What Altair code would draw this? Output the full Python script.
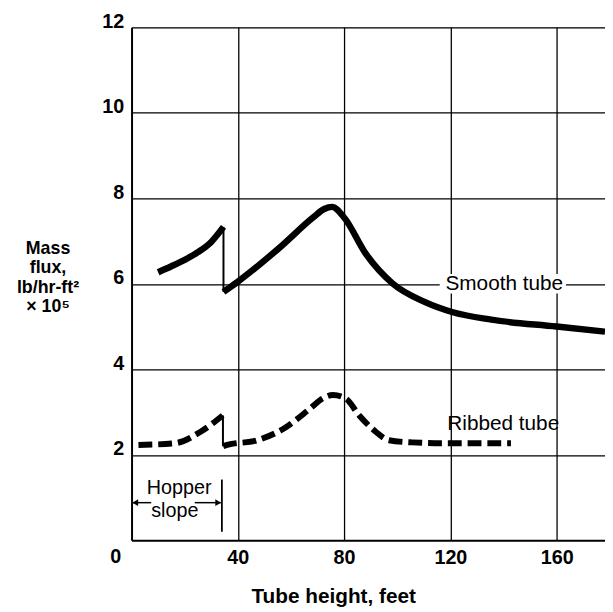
import altair as alt
import pandas as pd

FONT = "Liberation Sans"

# Smooth tube (solid), two segments separated by a drop at the hopper end
smooth_a_x = [10, 15, 20, 25, 30, 34.6]
smooth_a_y = [6.27, 6.41, 6.56, 6.74, 6.98, 7.33]
smooth_b_x = [34.6, 39.8, 55.8, 68.3, 72.5, 75.5, 80, 88.2, 98.2, 110.5, 120.6, 135.4, 160, 178.2]
smooth_b_y = [5.81, 6.04, 6.85, 7.55, 7.75, 7.8, 7.55, 6.70, 6.01, 5.57, 5.34, 5.16, 5.0, 4.88]

# Ribbed tube (dashed)
ribbed_a_x = [2.6, 16.3, 26, 34.3]
ribbed_a_y = [2.23, 2.27, 2.54, 2.92]
ribbed_b_x = [34.5, 36, 47.3, 57.2, 67, 72, 75.8, 80.7, 85.7, 91.9, 96.9, 105.6, 118, 142.8]
ribbed_b_y = [2.2, 2.23, 2.34, 2.61, 3.07, 3.32, 3.40, 3.31, 2.92, 2.54, 2.34, 2.29, 2.27, 2.27]

# Thin vertical drops at the top of the hopper
drop_x = [34.6, 34.4]
drop_top = [7.33, 2.92]
drop_bottom = [5.81, 2.2]

# Curve labels
label_text = ["Smooth tube", "Ribbed tube"]
label_x = [140.3, 139.9]
label_y = [6.0, 2.73]

# Hopper slope annotation
hopper_text = ["Hopper", "slope"]
hopper_text_x = [17.9, 16.3]
hopper_text_y = [1.23, 0.69]
arrow_x1 = [0.3, 23.8]
arrow_x2 = [7.4, 33.6]
arrow_y = 0.88
arrowhead_x = [1.4, 32.6]
arrowhead_shape = ["triangle-left", "triangle-right"]
bracket_x = 34.0
bracket_y1 = 0.2
bracket_y2 = 1.42

x_ticks = [40, 80, 120, 160]
y_ticks = [2, 4, 6, 8, 10, 12]
x_max = 178.2
y_max = 12

xs = alt.Scale(domain=[0, x_max], nice=False)
ys = alt.Scale(domain=[0, y_max], nice=False)

x_axis = alt.Axis(
    values=x_ticks, grid=True, gridColor="black", gridWidth=1.3, gridOpacity=1,
    domainColor="black", domainWidth=2, ticks=False,
    labelFont=FONT, labelFontSize=20, labelFontWeight="bold", labelColor="black",
    labelPadding=7, labelFlush=False,
    title="Tube height, feet", titleFont=FONT, titleFontSize=21, titleFontWeight="bold",
    titleColor="black", titleX=204, titleY=57, titleAlign="center", titleBaseline="middle",
)
y_axis = alt.Axis(
    values=y_ticks, grid=True, gridColor="black", gridWidth=1.3, gridOpacity=1,
    domainColor="black", domainWidth=2, ticks=False,
    labelFont=FONT, labelFontSize=20, labelFontWeight="bold", labelColor="black",
    labelPadding=8, labelBaseline="alphabetic", labelFlush=False,
    title=["Mass", "flux,", "lb/hr-ft²", "× 10⁵"], titleFont=FONT, titleFontSize=18,
    titleFontWeight="bold", titleColor="black", titleAngle=0, titleX=-85, titleY=224,
    titleAlign="center", titleBaseline="middle", titleLineHeight=19.5,
)

def seg_df(xv, yv):
    return pd.DataFrame({"x": xv, "y": yv})

base_enc = dict(
    x=alt.X("x:Q", scale=xs, axis=x_axis),
    y=alt.Y("y:Q", scale=ys, axis=y_axis),
)

smooth_a = alt.Chart(seg_df(smooth_a_x, smooth_a_y)).mark_line(
    color="black", strokeWidth=6.5, interpolate="monotone", strokeCap="butt"
).encode(**base_enc)
smooth_b = alt.Chart(seg_df(smooth_b_x, smooth_b_y)).mark_line(
    color="black", strokeWidth=6.5, interpolate="monotone", strokeCap="butt"
).encode(x="x:Q", y="y:Q")
ribbed_a = alt.Chart(seg_df(ribbed_a_x, ribbed_a_y)).mark_line(
    color="black", strokeWidth=6, interpolate="monotone", strokeDash=[14, 6], strokeCap="butt"
).encode(x="x:Q", y="y:Q")
ribbed_b = alt.Chart(seg_df(ribbed_b_x, ribbed_b_y)).mark_line(
    color="black", strokeWidth=6, interpolate="monotone", strokeDash=[14, 6], strokeCap="butt"
).encode(x="x:Q", y="y:Q")

drops = alt.Chart(pd.DataFrame({"x": drop_x, "y": drop_top, "y2": drop_bottom})).mark_rule(
    color="black", strokeWidth=2
).encode(x="x:Q", y="y:Q", y2="y2:Q")

label_bg = alt.Chart(pd.DataFrame({"x": [116.0], "x2": [163.5], "y": [5.77], "y2": [6.23]})).mark_rect(
    color="white"
).encode(x="x:Q", x2="x2:Q", y="y:Q", y2="y2:Q")

labels = alt.Chart(pd.DataFrame({"t": label_text, "x": label_x, "y": label_y})).mark_text(
    font=FONT, fontSize=21, color="black", align="center", baseline="middle"
).encode(x="x:Q", y="y:Q", text="t:N")

hop_text = alt.Chart(pd.DataFrame({"t": hopper_text, "x": hopper_text_x, "y": hopper_text_y})).mark_text(
    font=FONT, fontSize=20, color="black", align="center", baseline="middle"
).encode(x="x:Q", y="y:Q", text="t:N")

arrows = alt.Chart(pd.DataFrame({"x": arrow_x1, "x2": arrow_x2, "y": [arrow_y] * 2})).mark_rule(
    color="black", strokeWidth=1.5
).encode(x="x:Q", x2="x2:Q", y="y:Q")

heads = alt.Chart(pd.DataFrame({"x": arrowhead_x, "y": [arrow_y] * 2, "s": arrowhead_shape})).mark_point(
    filled=True, color="black", size=45, opacity=1
).encode(x="x:Q", y="y:Q", shape=alt.Shape("s:N", scale=None, legend=None))

bracket = alt.Chart(pd.DataFrame({"x": [bracket_x], "y": [bracket_y1], "y2": [bracket_y2]})).mark_rule(
    color="black", strokeWidth=1.8
).encode(x="x:Q", y="y:Q", y2="y2:Q")

zero_label = alt.Chart(pd.DataFrame({"x": [0], "y": [0], "t": ["0"]})).mark_text(
    font=FONT, fontSize=20, fontWeight="bold", color="black", align="center",
    baseline="middle", dx=-16, dy=17
).encode(x="x:Q", y="y:Q", text="t:N")

chart = alt.layer(
    smooth_a, smooth_b, ribbed_a, ribbed_b, drops, label_bg, labels,
    hop_text, arrows, heads, bracket, zero_label
).properties(
    width=479, height=519,
    padding={"left": 125, "top": 16, "right": 0, "bottom": 66},
    autosize=alt.AutoSizeParams(type="none"),
).configure_view(stroke=None).configure(background="white")

chart.save("out.html", embed_options={"renderer": "svg", "actions": False})
